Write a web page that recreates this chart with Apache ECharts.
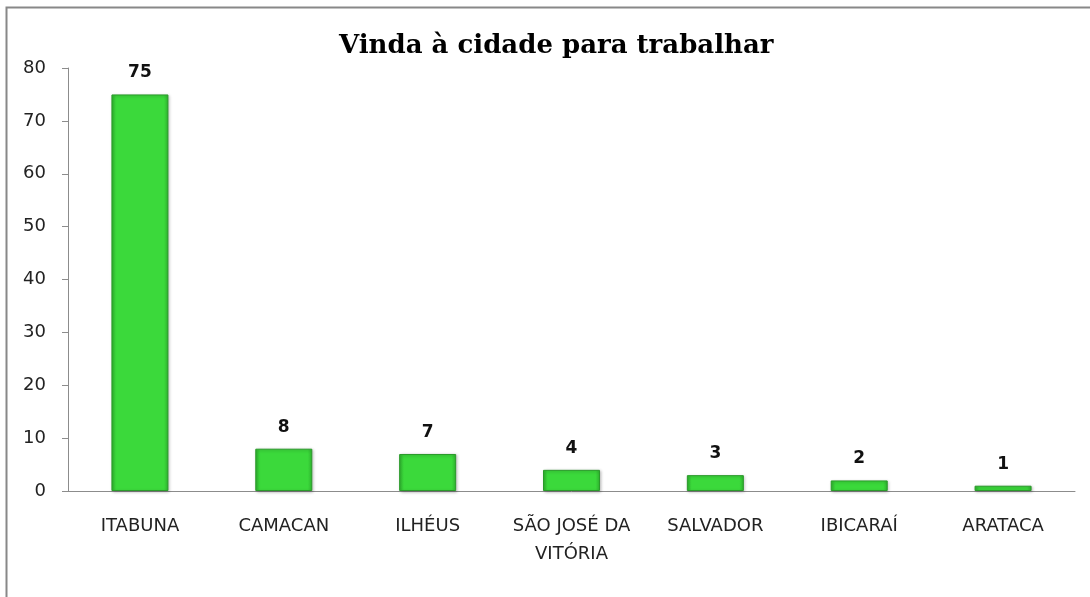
<!DOCTYPE html>
<html>
<head>
<meta charset="utf-8">
<script src="https://cdn.jsdelivr.net/npm/echarts@6/dist/echarts.min.js"></script>
<style>
  html, body { margin: 0; padding: 0; background: #fff; }
  #chart { width: 1090px; height: 597px; }
</style>
</head>
<body>
<div id="chart"></div>
<script>
var cidades = ['ITABUNA', 'CAMACAN', 'ILHÉUS', 'SÃO JOSÉ DA\nVITÓRIA', 'SALVADOR', 'IBICARAÍ', 'ARATACA'];
var pessoas = [75, 8, 7, 4, 3, 2, 1];
var yTicks = { min: 0, max: 80, interval: 10 };

var dom = document.getElementById('chart');
var myChart = echarts.init(dom);

var option = {
    backgroundColor: '#fff',
    animation: false,
    title: {
        text: 'Vinda à cidade para trabalhar',
        left: 334,
        top: 28,
        textStyle: {
            fontFamily: 'DejaVu Serif',
            fontWeight: 'bold',
            fontSize: 26,
            color: '#000'
        }
    },
    // moldura cinza (lados direito/inferior ficam fora da imagem)
    graphic: [{
        type: 'rect',
        shape: { x: 6.5, y: 7.5, width: 1200, height: 700 },
        style: { fill: 'none', stroke: '#888', lineWidth: 2 },
        silent: true
    }],
    grid: {
        left: 68,
        right: 15,
        top: 68,
        bottom: 106
    },
    xAxis: {
        type: 'category',
        data: cidades,
        axisLine: { lineStyle: { color: '#8c8c8c' } },
        axisTick: { length: 6, lineStyle: { color: '#8c8c8c' } },
        axisLabel: {
            margin: 21,
            interval: 0,
            fontFamily: 'DejaVu Sans',
            fontSize: 18,
            lineHeight: 28,
            color: '#222'
        }
    },
    yAxis: {
        type: 'value',
        min: yTicks.min,
        max: yTicks.max,
        interval: yTicks.interval,
        splitLine: { show: false },
        axisLine: { show: true, lineStyle: { color: '#8c8c8c' } },
        axisTick: { show: true, length: 6, lineStyle: { color: '#8c8c8c' } },
        axisLabel: {
            margin: 22,
            fontFamily: 'DejaVu Sans',
            fontSize: 18,
            color: '#222'
        }
    },
    series: [{
        type: 'bar',
        data: pessoas,
        barWidth: 57,
        itemStyle: {
            color: new echarts.graphic.LinearGradient(0, 0, 1, 0, [
                { offset: 0, color: '#2fb52f' },
                { offset: 0.08, color: '#3bd93b' },
                { offset: 0.92, color: '#3bd93b' },
                { offset: 1, color: '#2fb52f' }
            ]),
            borderColor: '#2a9a2a',
            borderWidth: 1,
            shadowColor: 'rgba(0,0,0,0.25)',
            shadowBlur: 3,
            shadowOffsetX: 1,
            shadowOffsetY: 1
        },
        label: {
            show: true,
            position: 'top',
            distance: 13,
            fontFamily: 'DejaVu Sans',
            fontWeight: 'bold',
            fontSize: 17,
            color: '#111'
        }
    }]
};

if (option && typeof option === "object") {
    myChart.setOption(option, true);
}
</script>
</body>
</html>
